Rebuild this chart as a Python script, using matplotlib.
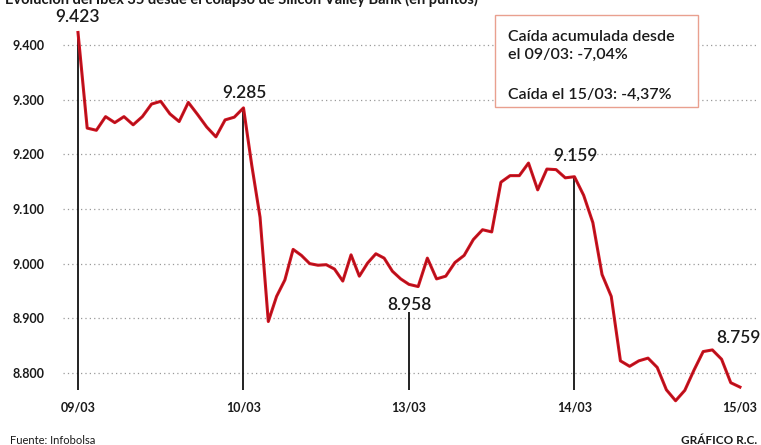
import matplotlib
matplotlib.use('Agg')
import matplotlib.pyplot as plt
from matplotlib.patches import Rectangle
import numpy as np

# Ibex 35 intraday values (points), one list per session
day_labels = ['09/03', '10/03', '13/03', '14/03', '15/03']
day1 = [9423, 9248, 9244, 9269, 9258, 9269, 9254, 9269, 9292, 9297, 9274,
        9260, 9295, 9273, 9250, 9232, 9263, 9268]
day2 = [9285, 9180, 9085, 8894, 8940, 8970, 9026, 9015, 9000, 8997, 8998,
        8990, 8968, 9016, 8977, 9001, 9018, 9010, 8986, 8972]
day3 = [8962, 8958, 9010, 8972, 8977, 9002, 9015, 9044, 9062, 9058, 9149,
        9161, 9161, 9184, 9135, 9173, 9172, 9157]
day4 = [9159, 9125, 9075, 8980, 8940, 8822, 8812, 8822, 8827, 8810, 8769,
        8749, 8768, 8805, 8839, 8842, 8825, 8782, 8774]

marked_x = [0, 1, 2, 3, 4]
marked_values = [9423, 9285, 8958, 9159, 8759]
y_ticks = [8800, 8900, 9000, 9100, 9200, 9300, 9400]

title = 'Evolución del Ibex 35 desde el colapso de Silicon Valley Bank (en puntos)'
box_lines = ['Caída acumulada desde', 'el 09/03: -7,04%', 'Caída el 15/03: -4,37%']

RED = '#d3121f'
FONT = 'Lato'
plt.rcParams['font.family'] = [FONT, 'DejaVu Sans']

# x positions: each session spans one unit
xs, ys = [], []
for k, d in enumerate([day1, day2, day3]):
    xs.extend(k + np.arange(len(d)) / len(d))
    ys.extend(d)
xs.extend(3 + np.arange(len(day4)) / (len(day4) - 1))
ys.extend(day4)

fig = plt.figure(figsize=(7.61, 4.45), dpi=100)
ax = fig.add_axes([63 / 761, 1 - 392 / 445, 694 / 761, 377 / 445])

ymin, ymax = 8765, 9455
ax.set_xlim(-0.0906, 4.103)
ax.set_ylim(ymin, ymax)

# dotted grid
for v in y_ticks:
    ax.axhline(v, color='#9a9a9a', lw=0.9, ls=(0, (1, 2.5)), zorder=1)

# vertical markers
vtops = [9423, 9285, 8911, 9159]
ax.vlines(marked_x[:4], ymin + 3, vtops, color='#111111', lw=1.3, zorder=3)

ax.plot(xs, ys, color=RED, lw=2.2, zorder=4, clip_on=False, solid_joinstyle='round')
ax.plot(xs, ys, color='#5a1015', lw=0.5, alpha=0.5, zorder=5, clip_on=False)

# value labels
offsets = [(0, 11.5), (0.5, 11), (0, -13), (0.5, 15), (-1, 35)]
for x, v, off in zip(marked_x, marked_values, offsets):
    y0 = v if x != 4 else ys[-1]
    ax.annotate(f'{v:,}'.replace(',', '.'), xy=(x, y0), xytext=off,
                textcoords='offset points', ha='center', va='center',
                fontsize=12.5, fontweight='semibold', color='#1a1a1a', zorder=6)

ax.set_yticks(y_ticks)
ax.set_yticklabels([f'{v:,}'.replace(',', '.') for v in y_ticks])
ax.set_xticks(marked_x)
ax.set_xticklabels(day_labels)
ax.tick_params(axis='both', length=0, labelsize=9, labelcolor='#1a1a1a')
ax.tick_params(axis='y', pad=13)
ax.tick_params(axis='x', pad=7)
for lab in ax.get_xticklabels() + ax.get_yticklabels():
    lab.set_fontweight('bold')
for s in ax.spines.values():
    s.set_visible(False)

# info box
ax.add_patch(Rectangle((0.6225, 0.756), 0.2925, 0.244, transform=ax.transAxes,
                       facecolor='white', edgecolor='#e9a08f', lw=1.0,
                       zorder=7, clip_on=False))
for txt, yy in zip(box_lines, [0.942, 0.894, 0.788]):
    ax.text(0.641, yy, txt, transform=ax.transAxes, ha='left', va='center',
            fontsize=11.5, fontweight='semibold', color='#1a1a1a', zorder=8)

fig.text(5 / 761, 1 - 4 / 445, title, ha='left', va='baseline',
         fontsize=10.5, fontweight='bold', color='#1a1a1a')
fig.text(10 / 761, 1 - 440 / 445, 'Fuente: Infobolsa', ha='left',
         va='center', fontsize=8, color='#1a1a1a')
fig.text(757 / 761, 1 - 441 / 445, 'GRÁFICO R.C.', ha='right',
         va='center', fontsize=8.5, fontweight='bold', color='#1a1a1a')

fig.savefig('out.png', dpi=100, facecolor='white')
